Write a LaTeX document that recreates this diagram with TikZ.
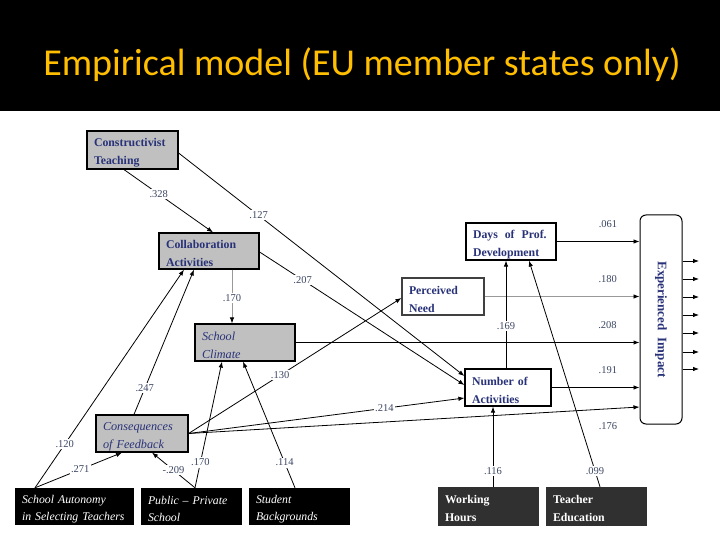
\documentclass[tikz,border=0pt]{standalone}
\usepackage{fontspec}
\setmainfont{Liberation Serif}
\newfontfamily\titlefont{Carlito}
\usetikzlibrary{arrows.meta}
\definecolor{navy}{RGB}{40,50,120}
\definecolor{boxgray}{RGB}{192,192,192}
\definecolor{labcol}{RGB}{60,70,100}
\definecolor{titlecol}{RGB}{255,190,0}
\definecolor{darkbox}{RGB}{48,48,48}
\begin{document}
\begin{tikzpicture}[x=1pt,y=-1pt,
 bx/.style={draw=black, line width=1.2pt, inner xsep=7pt, inner ysep=0pt, align=left, text=navy, font=\fontsize{11.8}{18}\selectfont\bfseries, execute at begin node={\rule{0pt}{14pt}}},
 gbx/.style={bx, fill=boxgray},
 wbx/.style={bx, fill=white},
 ibx/.style={gbx, font=\fontsize{12.2}{18}\selectfont\itshape},
 blk/.style={fill=black, draw=black, inner xsep=7pt, inner ysep=0pt, align=left, text=white, font=\fontsize{11.8}{17}\selectfont\itshape, execute at begin node={\rule{0pt}{14pt}}},
 dbx/.style={fill=darkbox, draw=darkbox, inner xsep=7pt, inner ysep=0pt, align=left, text=white, font=\fontsize{11.8}{18}\selectfont\bfseries, execute at begin node={\rule{0pt}{14pt}}},
 ln/.style={line width=0.8pt, -{Latex[length=6pt,width=4.5pt]}},
 coef/.style={fill=white, inner sep=1.5pt, text=labcol, font=\fontsize{10.5}{11}\selectfont}
]
\path[use as bounding box] (0,0) rectangle (720,540);
\fill[white] (0,0) rectangle (720,540);
\fill[black] (0,0) rectangle (720,111);
\node[text=titlecol, font=\titlefont\fontsize{38}{40}\selectfont, anchor=base, inner sep=0pt] (title) at (362,76) {Empirical model (EU member states only)};

% boxes
\node[gbx, text width=77, minimum height=38] (ct) at (132.5,150) {Constructivist\\Teaching};
\node[gbx, text width=86, minimum height=36] (ca) at (209,251) {Collaboration\\Activities};
\node[wbx, text width=76, minimum height=37] (dp) at (511,241.5) {Days\hspace{3pt} of\hspace{3pt} Prof.\\Development};
\node[wbx, draw=black!75, text width=68, minimum height=37] (pn) at (443,296.5) {Perceived\\Need};
\node[ibx, text width=86, minimum height=37] (sc) at (245,342.5) {School\\Climate};
\node[wbx, text width=72, minimum height=37] (na) at (508,387.5) {Number of\\Activities};
\node[ibx, text width=78, minimum height=37] (cf) at (142,433.5) {Consequences\\of Feedback};
\node[draw=black, line width=1pt, rounded corners=6pt, minimum width=42, minimum height=209, inner sep=0pt] (ei) at (661,319.5) {};
\node[rotate=-90, text=navy, font=\fontsize{13}{14}\selectfont\bfseries, inner sep=0pt] (eitext) at (ei.center) {Experienced\hspace{4pt} Impact};

\node[blk, text width=104, minimum height=36] (sa) at (74,506) {School Autonomy\\in Selecting Teachers};
\node[blk, text width=86, minimum height=36] (pp) at (191,506) {Public -- Private\\School};
\node[blk, text width=86, minimum height=36] (sb) at (299,506) {Student\\Backgrounds};
\node[dbx, text width=86, minimum height=38] (wh) at (488,506) {Working\\Hours};
\node[dbx, text width=86, minimum height=38] (te) at (596,506) {Teacher\\Education};

% connectors
\draw[ln] ([xshift=-8.5]ct.south) -- node[coef, pos=0.39] {.328} ([xshift=4]ca.north);
\draw[ln] ([yshift=-3]ct.east) -- node[coef, pos=0.28] {.127} ([yshift=11.5]na.west);
\draw[ln] ([yshift=-1]ca.east) -- node[coef, pos=0.21] {.207} ([yshift=2.5]na.west);
\draw[line width=0.8pt, black!40, -{Latex[length=6pt,width=4.5pt,color=black]}] ([xshift=23]ca.south) -- node[coef, pos=0.53] {.170} ([xshift=-13]sc.north);

\draw[ln] (dp.east) -- node[coef, pos=0.62, yshift=17] {.061} (dp.east -| ei.west);
\draw[line width=0.8pt, black!40, -{Latex[length=6pt,width=4.5pt,color=black]}] (pn.east) -- node[coef, pos=0.795, yshift=17] {.180} (pn.east -| ei.west);
\draw[ln, line width=1pt] (sc.east) -- node[coef, pos=0.907, yshift=17] {.208} (sc.east -| ei.west);
\draw[ln] (na.east) -- node[coef, pos=0.64, yshift=17] {.191} (na.east -| ei.west);
\draw[ln] (cf.east) -- node[coef, pos=0.93, yshift=-17] {.176} ([yshift=-87.5]ei.west);
\draw[ln] (cf.east) -- node[coef, pos=0.71] {.214} ([yshift=-10.5]na.west);
\draw[ln] (cf.east) -- node[coef, pos=0.43] {.130} ([yshift=-1.5]pn.west);

\draw[ln] ([xshift=-39]sa.north) -- node[coef, pos=0.2] {.120} ([xshift=-25]ca.south);
\draw[ln] ([xshift=-8]cf.north) -- node[coef, pos=0.18] {.247} ([xshift=-15]ca.south);
\draw[ln] ([xshift=-39]sa.north) -- node[coef, pos=0.52] {.271} ([xshift=-20]cf.south);
\draw[ln] ([xshift=4]pp.north) -- node[coef, pos=0.5] {-.209} ([xshift=10]cf.south);
\draw[ln] ([xshift=4]pp.north) -- node[coef, pos=0.2] {.170} ([xshift=-23]sc.south);
\draw[ln] ([xshift=-4]sb.north) -- node[coef, pos=0.2] {.114} ([xshift=-2]sc.south);
\draw[ln] ([xshift=5]wh.north) -- node[coef, pos=0.2] {.116} ([xshift=-15]na.south);
\draw[ln] ([xshift=4]te.north) -- node[coef, pos=0.07] {.099} ([xshift=18]dp.south);
\draw[ln] ([xshift=-2]na.north) -- node[coef, pos=0.39] {.169} ([xshift=-5]dp.south);

% outputs of Experienced Impact
\foreach \i/\yy in {1/261,2/279,3/297,4/315,5/333,6/352,7/369}{
  \coordinate (o\i) at (699,\yy);
  \draw[ln] (ei.east |- o\i) -- (o\i);
}
\end{tikzpicture}
\end{document}
